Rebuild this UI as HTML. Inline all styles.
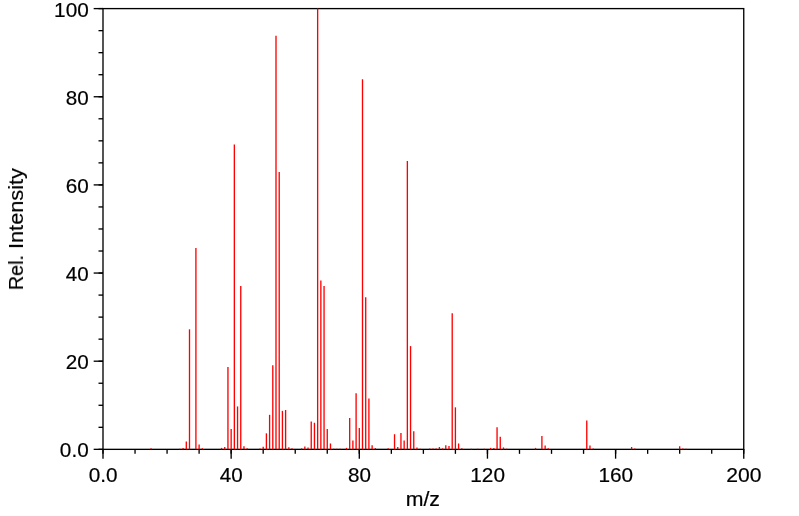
<!DOCTYPE html>
<html>
<head>
<meta charset="utf-8">
<title>Mass spectrum</title>
<style>
html,body{margin:0;padding:0;background:#fff;}
body{width:799px;height:516px;position:relative;overflow:hidden;font-family:"Liberation Sans",sans-serif;}
svg{position:absolute;left:0;top:0;}
.t{position:absolute;font-family:"Liberation Sans",sans-serif;font-size:19.9px;line-height:24px;height:24px;color:#000;white-space:nowrap;will-change:transform;-webkit-text-stroke:0.2px #000;}
.yl{text-align:right;transform-origin:100% 50%;}
.xl{width:100px;text-align:center;transform-origin:50% 50%;}
.rot{text-align:left;transform-origin:0 0;}
</style>
</head>
<body>
<svg width="799" height="516" viewBox="0 0 799 516">
<g stroke="#000" stroke-width="1.333" fill="none">
<rect x="103.00" y="8.60" width="640.75" height="440.75"/>
<line x1="103.00" y1="449.35" x2="103.00" y2="453.85"/>
<line x1="103.00" y1="449.35" x2="103.00" y2="458.68"/>
<line x1="135.04" y1="449.35" x2="135.04" y2="453.85"/>
<line x1="167.07" y1="449.35" x2="167.07" y2="453.85"/>
<line x1="199.11" y1="449.35" x2="199.11" y2="453.85"/>
<line x1="231.15" y1="449.35" x2="231.15" y2="453.85"/>
<line x1="231.15" y1="449.35" x2="231.15" y2="458.68"/>
<line x1="263.19" y1="449.35" x2="263.19" y2="453.85"/>
<line x1="295.23" y1="449.35" x2="295.23" y2="453.85"/>
<line x1="327.26" y1="449.35" x2="327.26" y2="453.85"/>
<line x1="359.30" y1="449.35" x2="359.30" y2="453.85"/>
<line x1="359.30" y1="449.35" x2="359.30" y2="458.68"/>
<line x1="391.34" y1="449.35" x2="391.34" y2="453.85"/>
<line x1="423.38" y1="449.35" x2="423.38" y2="453.85"/>
<line x1="455.41" y1="449.35" x2="455.41" y2="453.85"/>
<line x1="487.45" y1="449.35" x2="487.45" y2="453.85"/>
<line x1="487.45" y1="449.35" x2="487.45" y2="458.68"/>
<line x1="519.49" y1="449.35" x2="519.49" y2="453.85"/>
<line x1="551.52" y1="449.35" x2="551.52" y2="453.85"/>
<line x1="583.56" y1="449.35" x2="583.56" y2="453.85"/>
<line x1="615.60" y1="449.35" x2="615.60" y2="453.85"/>
<line x1="615.60" y1="449.35" x2="615.60" y2="458.68"/>
<line x1="647.64" y1="449.35" x2="647.64" y2="453.85"/>
<line x1="679.67" y1="449.35" x2="679.67" y2="453.85"/>
<line x1="711.71" y1="449.35" x2="711.71" y2="453.85"/>
<line x1="743.75" y1="449.35" x2="743.75" y2="453.85"/>
<line x1="743.75" y1="449.35" x2="743.75" y2="458.68"/>
<line x1="103.00" y1="449.35" x2="98.50" y2="449.35"/>
<line x1="103.00" y1="449.35" x2="93.67" y2="449.35"/>
<line x1="103.00" y1="427.31" x2="98.50" y2="427.31"/>
<line x1="103.00" y1="405.28" x2="98.50" y2="405.28"/>
<line x1="103.00" y1="383.24" x2="98.50" y2="383.24"/>
<line x1="103.00" y1="361.20" x2="98.50" y2="361.20"/>
<line x1="103.00" y1="361.20" x2="93.67" y2="361.20"/>
<line x1="103.00" y1="339.16" x2="98.50" y2="339.16"/>
<line x1="103.00" y1="317.12" x2="98.50" y2="317.12"/>
<line x1="103.00" y1="295.09" x2="98.50" y2="295.09"/>
<line x1="103.00" y1="273.05" x2="98.50" y2="273.05"/>
<line x1="103.00" y1="273.05" x2="93.67" y2="273.05"/>
<line x1="103.00" y1="251.01" x2="98.50" y2="251.01"/>
<line x1="103.00" y1="228.98" x2="98.50" y2="228.98"/>
<line x1="103.00" y1="206.94" x2="98.50" y2="206.94"/>
<line x1="103.00" y1="184.90" x2="98.50" y2="184.90"/>
<line x1="103.00" y1="184.90" x2="93.67" y2="184.90"/>
<line x1="103.00" y1="162.86" x2="98.50" y2="162.86"/>
<line x1="103.00" y1="140.83" x2="98.50" y2="140.83"/>
<line x1="103.00" y1="118.79" x2="98.50" y2="118.79"/>
<line x1="103.00" y1="96.75" x2="98.50" y2="96.75"/>
<line x1="103.00" y1="96.75" x2="93.67" y2="96.75"/>
<line x1="103.00" y1="74.71" x2="98.50" y2="74.71"/>
<line x1="103.00" y1="52.68" x2="98.50" y2="52.68"/>
<line x1="103.00" y1="30.64" x2="98.50" y2="30.64"/>
<line x1="103.00" y1="8.60" x2="98.50" y2="8.60"/>
<line x1="103.00" y1="8.60" x2="93.67" y2="8.60"/>
</g>
<g stroke="#ff0000" stroke-width="1.333" fill="none">
<line x1="151.06" y1="449.35" x2="151.06" y2="448.32"/>
<line x1="179.89" y1="449.35" x2="179.89" y2="448.85"/>
<line x1="183.09" y1="449.35" x2="183.09" y2="447.88"/>
<line x1="186.30" y1="449.35" x2="186.30" y2="441.49"/>
<line x1="189.50" y1="449.35" x2="189.50" y2="329.30"/>
<line x1="195.91" y1="449.35" x2="195.91" y2="247.90"/>
<line x1="199.11" y1="449.35" x2="199.11" y2="444.57"/>
<line x1="202.32" y1="449.35" x2="202.32" y2="448.32"/>
<line x1="221.54" y1="449.35" x2="221.54" y2="447.88"/>
<line x1="224.74" y1="449.35" x2="224.74" y2="447.00"/>
<line x1="227.95" y1="449.35" x2="227.95" y2="367.00"/>
<line x1="231.15" y1="449.35" x2="231.15" y2="428.93"/>
<line x1="234.35" y1="449.35" x2="234.35" y2="144.60"/>
<line x1="237.56" y1="449.35" x2="237.56" y2="406.45"/>
<line x1="240.76" y1="449.35" x2="240.76" y2="286.10"/>
<line x1="243.97" y1="449.35" x2="243.97" y2="446.25"/>
<line x1="247.17" y1="449.35" x2="247.17" y2="448.32"/>
<line x1="259.98" y1="449.35" x2="259.98" y2="448.54"/>
<line x1="263.19" y1="449.35" x2="263.19" y2="446.78"/>
<line x1="266.39" y1="449.35" x2="266.39" y2="433.33"/>
<line x1="269.60" y1="449.35" x2="269.60" y2="414.82"/>
<line x1="272.80" y1="449.35" x2="272.80" y2="365.30"/>
<line x1="276.00" y1="449.35" x2="276.00" y2="35.80"/>
<line x1="279.21" y1="449.35" x2="279.21" y2="172.00"/>
<line x1="282.41" y1="449.35" x2="282.41" y2="410.85"/>
<line x1="285.61" y1="449.35" x2="285.61" y2="409.97"/>
<line x1="288.82" y1="449.35" x2="288.82" y2="447.22"/>
<line x1="292.02" y1="449.35" x2="292.02" y2="448.32"/>
<line x1="301.63" y1="449.35" x2="301.63" y2="448.32"/>
<line x1="304.84" y1="449.35" x2="304.84" y2="446.42"/>
<line x1="308.04" y1="449.35" x2="308.04" y2="447.44"/>
<line x1="311.24" y1="449.35" x2="311.24" y2="421.43"/>
<line x1="314.45" y1="449.35" x2="314.45" y2="422.76"/>
<line x1="317.65" y1="449.35" x2="317.65" y2="8.45"/>
<line x1="320.86" y1="449.35" x2="320.86" y2="280.40"/>
<line x1="324.06" y1="449.35" x2="324.06" y2="286.10"/>
<line x1="327.26" y1="449.35" x2="327.26" y2="428.93"/>
<line x1="330.47" y1="449.35" x2="330.47" y2="443.47"/>
<line x1="333.67" y1="449.35" x2="333.67" y2="448.76"/>
<line x1="336.87" y1="449.35" x2="336.87" y2="448.76"/>
<line x1="340.08" y1="449.35" x2="340.08" y2="448.76"/>
<line x1="346.49" y1="449.35" x2="346.49" y2="447.88"/>
<line x1="349.69" y1="449.35" x2="349.69" y2="417.91"/>
<line x1="352.89" y1="449.35" x2="352.89" y2="440.39"/>
<line x1="356.10" y1="449.35" x2="356.10" y2="393.22"/>
<line x1="359.30" y1="449.35" x2="359.30" y2="428.04"/>
<line x1="362.50" y1="449.35" x2="362.50" y2="79.20"/>
<line x1="365.71" y1="449.35" x2="365.71" y2="297.20"/>
<line x1="368.91" y1="449.35" x2="368.91" y2="398.51"/>
<line x1="372.12" y1="449.35" x2="372.12" y2="445.23"/>
<line x1="375.32" y1="449.35" x2="375.32" y2="447.88"/>
<line x1="388.13" y1="449.35" x2="388.13" y2="448.32"/>
<line x1="394.54" y1="449.35" x2="394.54" y2="434.21"/>
<line x1="397.75" y1="449.35" x2="397.75" y2="447.00"/>
<line x1="400.95" y1="449.35" x2="400.95" y2="432.89"/>
<line x1="404.15" y1="449.35" x2="404.15" y2="440.39"/>
<line x1="407.36" y1="449.35" x2="407.36" y2="160.90"/>
<line x1="410.56" y1="449.35" x2="410.56" y2="346.10"/>
<line x1="413.76" y1="449.35" x2="413.76" y2="431.13"/>
<line x1="416.97" y1="449.35" x2="416.97" y2="447.44"/>
<line x1="420.17" y1="449.35" x2="420.17" y2="448.76"/>
<line x1="429.78" y1="449.35" x2="429.78" y2="448.54"/>
<line x1="432.99" y1="449.35" x2="432.99" y2="448.54"/>
<line x1="436.19" y1="449.35" x2="436.19" y2="448.54"/>
<line x1="439.39" y1="449.35" x2="439.39" y2="447.00"/>
<line x1="442.60" y1="449.35" x2="442.60" y2="448.32"/>
<line x1="445.80" y1="449.35" x2="445.80" y2="445.23"/>
<line x1="449.00" y1="449.35" x2="449.00" y2="446.11"/>
<line x1="452.21" y1="449.35" x2="452.21" y2="313.30"/>
<line x1="455.41" y1="449.35" x2="455.41" y2="407.33"/>
<line x1="458.62" y1="449.35" x2="458.62" y2="443.47"/>
<line x1="461.82" y1="449.35" x2="461.82" y2="448.32"/>
<line x1="471.43" y1="449.35" x2="471.43" y2="448.76"/>
<line x1="477.84" y1="449.35" x2="477.84" y2="448.76"/>
<line x1="484.25" y1="449.35" x2="484.25" y2="448.76"/>
<line x1="490.65" y1="449.35" x2="490.65" y2="447.88"/>
<line x1="493.86" y1="449.35" x2="493.86" y2="447.88"/>
<line x1="497.06" y1="449.35" x2="497.06" y2="427.16"/>
<line x1="500.26" y1="449.35" x2="500.26" y2="436.86"/>
<line x1="503.47" y1="449.35" x2="503.47" y2="447.44"/>
<line x1="506.67" y1="449.35" x2="506.67" y2="448.76"/>
<line x1="535.51" y1="449.35" x2="535.51" y2="447.88"/>
<line x1="541.91" y1="449.35" x2="541.91" y2="435.98"/>
<line x1="545.12" y1="449.35" x2="545.12" y2="445.45"/>
<line x1="548.32" y1="449.35" x2="548.32" y2="448.32"/>
<line x1="586.77" y1="449.35" x2="586.77" y2="420.55"/>
<line x1="589.97" y1="449.35" x2="589.97" y2="445.45"/>
<line x1="593.17" y1="449.35" x2="593.17" y2="448.54"/>
<line x1="631.62" y1="449.35" x2="631.62" y2="447.00"/>
<line x1="634.82" y1="449.35" x2="634.82" y2="448.54"/>
<line x1="679.67" y1="449.35" x2="679.67" y2="446.25"/>
<line x1="682.88" y1="449.35" x2="682.88" y2="448.54"/>
<line x1="686.08" y1="449.35" x2="686.08" y2="448.76"/>
</g>
</svg>
<div class="t yl" style="right:711px;top:-2px;transform:translateX(0.61px) scaleX(1.045)">100</div>
<div class="t yl" style="right:711px;top:86px;transform:translateX(0.60px) scaleX(1.037)">80</div>
<div class="t yl" style="right:711px;top:174px;transform:translateX(0.61px) scaleX(1.04)">60</div>
<div class="t yl" style="right:711px;top:262px;transform:translateX(0.60px) scaleX(1.034)">40</div>
<div class="t yl" style="right:711px;top:350px;transform:translateX(0.61px) scaleX(1.04)">20</div>
<div class="t yl" style="right:710px;top:438px;transform:translateX(0.01px) scaleX(1.042)">0.0</div>
<div class="t xl" style="left:53px;top:463px;transform:translateX(0.15px) scaleX(1.042)">0.0</div>
<div class="t xl" style="left:181px;top:463px;transform:translateX(0.30px) scaleX(1.034)">40</div>
<div class="t xl" style="left:309px;top:463px;transform:translateX(0.45px) scaleX(1.037)">80</div>
<div class="t xl" style="left:437px;top:463px;transform:translateX(0.60px) scaleX(1.045)">120</div>
<div class="t xl" style="left:565px;top:463px;transform:translateX(0.75px) scaleX(1.045)">160</div>
<div class="t xl" style="left:693px;top:463px;transform:translateX(0.90px) scaleX(1.062)">200</div>
<div class="t xl" style="left:372px;top:487px;transform:translateX(0.85px) scaleX(1.069)">m/z</div>
<div class="t rot" style="left:4px;top:290px;transform:rotate(-90deg) translateX(-0.12px) scaleX(0.993)">Rel.</div>
<div class="t rot" style="left:4px;top:249px;transform:rotate(-90deg) translateX(0.05px) scaleX(1.092)">Intensity</div>
</body>
</html>
